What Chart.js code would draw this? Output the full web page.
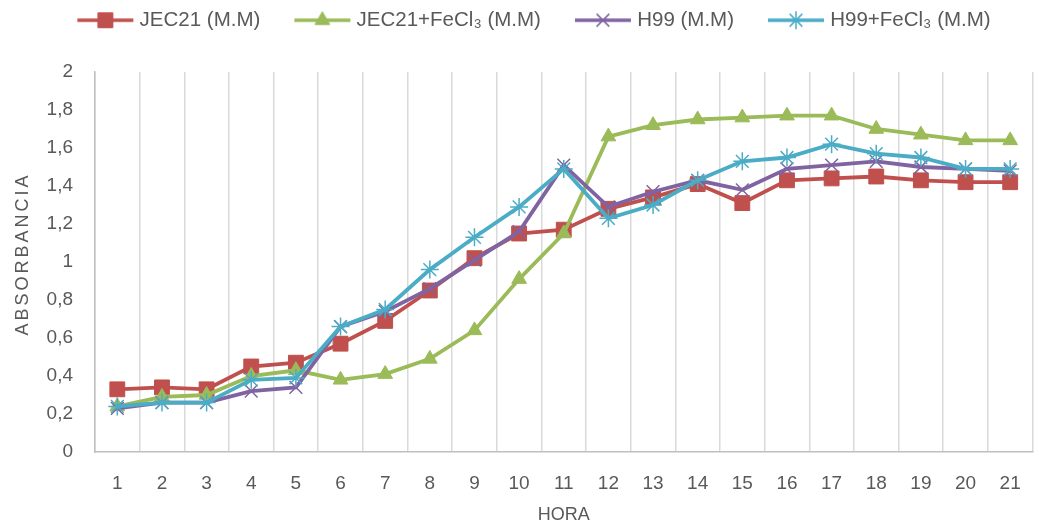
<!DOCTYPE html>
<html>
<head>
<meta charset="utf-8">
<script src="https://cdn.jsdelivr.net/npm/chart.js@4.4.1/dist/chart.umd.min.js"></script>
<style>
  html, body { margin: 0; padding: 0; overflow: hidden; background: #ffffff; }
  #wrap { width: 1044px; height: 527px; }
</style>
</head>
<body>
<div id="wrap"><canvas id="grafico" width="1044" height="527"></canvas></div>
<script>
// Horas de lectura (eje X)
const horas = ['1','2','3','4','5','6','7','8','9','10','11','12','13','14','15','16','17','18','19','20','21'];

// Absorbancia por cepa y medio
const jec21      = [0.33,0.34,0.33,0.45,0.47,0.57,0.69,0.85,1.02,1.15,1.17,1.28,1.34,1.41,1.31,1.43,1.44,1.45,1.43,1.42,1.42];
const jec21FeCl3 = [0.24,0.29,0.30,0.40,0.43,0.38,0.41,0.49,0.64,0.91,1.15,1.66,1.72,1.75,1.76,1.77,1.77,1.70,1.67,1.64,1.64];
const h99        = [0.23,0.26,0.26,0.32,0.34,0.66,0.74,0.86,1.01,1.16,1.51,1.29,1.37,1.43,1.38,1.49,1.51,1.53,1.50,1.49,1.48];
const h99FeCl3   = [0.24,0.26,0.26,0.38,0.39,0.66,0.75,0.96,1.13,1.29,1.49,1.23,1.30,1.43,1.53,1.55,1.62,1.57,1.55,1.49,1.49];

const nombres = ['JEC21 (M.M)', 'JEC21+FeCl₃ (M.M)', 'H99 (M.M)', 'H99+FeCl₃ (M.M)'];
const colores = ['#C0504D', '#9BBB59', '#8064A2', '#4BACC6'];

const FUENTE = "'Liberation Sans', Arial, sans-serif";
const GRIS_TEXTO = '#595959';

const estilos = [
  { pointStyle: 'rect',     radius: 10.5, borderWidth: 1 },
  { pointStyle: 'triangle', radius: 8.5,  borderWidth: 1 },
  { pointStyle: 'crossRot', radius: 9,    borderWidth: 1.5 },
  { pointStyle: 'star',     radius: 9,    borderWidth: 1.5 }
];

// Icono de leyenda: tramo de línea con el marcador en el centro
function iconoLeyenda(color, est) {
  const c = document.createElement('canvas');
  c.width = 92; c.height = 22;
  const ctx = c.getContext('2d');
  const x0 = 32, x1 = 88, y = 11;
  ctx.strokeStyle = color;
  ctx.lineWidth = 3.5;
  ctx.beginPath(); ctx.moveTo(x0, y); ctx.lineTo(x1, y); ctx.stroke();
  ctx.fillStyle = color;
  ctx.strokeStyle = color;
  ctx.lineWidth = est.borderWidth;
  Chart.helpers.drawPoint(ctx, { pointStyle: est.pointStyle, radius: est.radius, borderWidth: est.borderWidth, rotation: 0 }, (x0 + x1) / 2, y);
  return c;
}

const series = [jec21, jec21FeCl3, h99, h99FeCl3];
const datasets = series.map((valores, i) => ({
  label: nombres[i],
  data: valores,
  borderColor: colores[i],
  backgroundColor: colores[i],
  borderWidth: 3.8,
  tension: 0,
  pointStyle: estilos[i].pointStyle,
  pointRadius: estilos[i].radius,
  pointHoverRadius: estilos[i].radius,
  pointBorderWidth: estilos[i].borderWidth,
  pointBorderColor: colores[i],
  pointBackgroundColor: colores[i],
  order: series.length - i
}));

// Leyenda con más aire debajo
const margenLeyenda = {
  id: 'margenLeyenda',
  beforeInit(chart) {
    const ajusteOriginal = chart.legend.fit;
    chart.legend.fit = function () {
      ajusteOriginal.call(chart.legend);
      this.height = 72;
    };
  }
};

// Espaciado de letras y posición del título del eje Y
const tituloEspaciado = {
  id: 'tituloEspaciado',
  beforeDraw(chart) {
    const ys = chart.scales.y;
    if (ys && !ys._tituloEspaciado) {
      const original = ys.drawTitle.bind(ys);
      ys.drawTitle = function () {
        const ctx = this.ctx;
        ctx.save();
        ctx.letterSpacing = '3px';
        ctx.translate(2, -8);
        original();
        ctx.restore();
      };
      ys._tituloEspaciado = true;
    }
  }
};

new Chart(document.getElementById('grafico'), {
  type: 'line',
  data: { labels: horas, datasets },
  options: {
    responsive: false,
    animation: false,
    devicePixelRatio: 1,
    layout: { padding: 0 },
    plugins: {
      tooltip: { enabled: false },
      legend: {
        position: 'top',
        align: 'center',
        labels: {
          usePointStyle: true,
          pointStyleWidth: 76,
          padding: 10,
          color: GRIS_TEXTO,
          font: { family: FUENTE, size: 20.5 },
          generateLabels(chart) {
            return chart.data.datasets.map((ds, i) => ({
              text: ds.label,
              pointStyle: iconoLeyenda(colores[i], estilos[i]),
              fillStyle: colores[i],
              strokeStyle: colores[i],
              lineWidth: 0,
              fontColor: GRIS_TEXTO,
              hidden: false,
              datasetIndex: i
            }));
          }
        }
      }
    },
    scales: {
      x: {
        offset: true,
        grid: { display: true, offset: true, color: '#D9D9D9', lineWidth: 1.5, drawTicks: false },
        border: { display: true, color: '#BFBFBF', width: 1.5 },
        ticks: { color: GRIS_TEXTO, font: { family: FUENTE, size: 19 }, padding: 20, maxRotation: 0, autoSkip: false },
        title: { display: true, text: 'HORA', color: GRIS_TEXTO, font: { family: FUENTE, size: 18 }, padding: { top: 0, bottom: 1 } },
        afterFit(scale) { scale.height = 75; }
      },
      y: {
        min: 0,
        max: 2,
        grid: { display: false, drawTicks: false },
        border: { display: true, color: '#BFBFBF', width: 1.5 },
        ticks: {
          stepSize: 0.2,
          color: GRIS_TEXTO,
          font: { family: FUENTE, size: 19 },
          padding: 22,
          callback(v) { return String(Math.round(v * 10) / 10).replace('.', ','); }
        },
        title: { display: true, text: 'ABSORBANCIA', color: GRIS_TEXTO, font: { family: FUENTE, size: 18 }, padding: { top: 10, bottom: 0 } },
        afterFit(scale) { scale.width = 95; }
      }
    }
  },
  plugins: [margenLeyenda, tituloEspaciado]
});
</script>
</body>
</html>
